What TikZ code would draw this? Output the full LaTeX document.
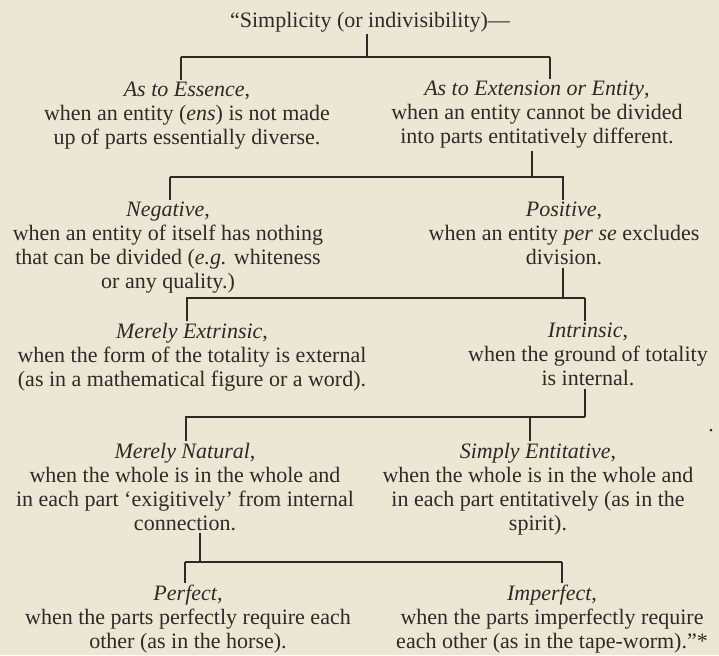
\documentclass[tikz,border=0pt]{standalone}
\usepackage{fontspec}
\setmainfont{Liberation Serif}
\definecolor{paper}{RGB}{236,231,213}
\definecolor{ink}{RGB}{45,42,38}
\begin{document}
\begin{tikzpicture}[x=0.5pt,y=-0.5pt,
  every node/.style={font=\fontsize{11}{12}\selectfont,text=ink},
  entry/.style={anchor=north,align=center,inner sep=1pt},
  rule/.style={draw=ink,line width=0.7pt}]
\fill[paper] (0,0) rectangle (719,655);
\useasboundingbox (0,0) rectangle (719,655);
\node[anchor=base,inner sep=1pt] (title) at (370,27) {“Simplicity (or indivisibility)—};
\node[entry] (essence) at (187,80) {\textit{As to Essence},\\when an entity (\textit{ens}) is not made\\up of parts essentially diverse.};
\node[entry] (extension) at (537,79) {\textit{As to Extension or Entity},\\when an entity cannot be divided\\into parts entitatively different.};
\node[entry] (negative) at (168,200) {\textit{Negative},\\when an entity of itself has nothing\\that can be divided (\textit{e.g.} whiteness\\or any quality.)};
\node[entry] (positive) at (564,200) {\textit{Positive},\\when an entity \textit{per se} excludes\\division.};
\node[entry] (extrinsic) at (192,321) {\textit{Merely Extrinsic},\\when the form of the totality is external\\(as in a mathematical figure or a word).};
\node[entry] (intrinsic) at (588,321) {\textit{Intrinsic},\\when the ground of totality\\is internal.};
\node[entry] (natural) at (185,441) {\textit{Merely Natural},\\when the whole is in the whole and\\in each part ‘exigitively’ from internal\\connection.};
\node[entry] (entitative) at (538,441) {\textit{Simply Entitative},\\when the whole is in the whole and\\in each part entitatively (as in the\\spirit).};
\node[entry] (perfect) at (188,583) {\textit{Perfect},\\when the parts perfectly require each\\other (as in the horse).};
\node[entry] (imperfect) at (552,583) {\textit{Imperfect},\\when the parts imperfectly require\\each other (as in the tape-worm).”*};
\foreach \p/\l/\r/\sx/\by/\bl/\br/\dl/\dr in {
  title/essence/extension/367/57/181/550/181/550,
  extension/negative/positive/532/177/170/564/170/563,
  positive/extrinsic/intrinsic/563/298/186/585/187/585,
  intrinsic/natural/entitative/585/417/185/585/186/530,
  natural/perfect/imperfect/200/562/185/562/185/562}
{
  \draw[rule] (\p.south -| \sx,\by) -- (\sx,\by);
  \draw[rule] (\bl,\by) -- (\br,\by);
  \draw[rule] (\dl,\by) -- (\l.north -| \dl,\by);
  \draw[rule] (\dr,\by) -- (\r.north -| \dr,\by);
}
\fill[ink] (711,430) circle (1.5);
\end{tikzpicture}
\end{document}
